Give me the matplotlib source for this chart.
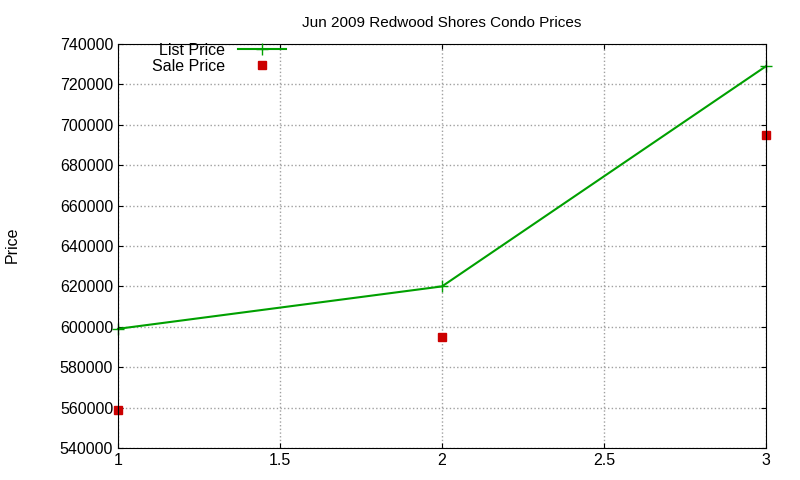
import matplotlib
matplotlib.use("Agg")
import matplotlib.pyplot as plt

x = [1, 2, 3]
list_price = [599000, 620000, 729000]
sale_price = [559000, 595000, 695000]
yticks = list(range(540000, 740001, 20000))
xticks = [1, 1.5, 2, 2.5, 3]

plt.rcParams['font.family'] = ['Liberation Sans', 'DejaVu Sans']
fig = plt.figure(figsize=(8, 4.8), dpi=100)
ax = fig.add_axes([118/800, 1-448/480, (766-118)/800, (448-44)/480])
ax.plot(x, list_price, color='#00a000', marker='+', markersize=8, lw=1.5, label='List Price', clip_on=False)
ax.plot(x, sale_price, color='#cc0000', marker='s', markersize=6, ls='none', label='Sale Price', clip_on=False)
ax.set_xlim(1, 3)
ax.set_ylim(540000, 740000)
ax.set_xticks(xticks)
ax.set_xticklabels(['1', '1.5', '2', '2.5', '3'])
ax.set_yticks(yticks)
ax.set_yticklabels([str(v) for v in yticks])
ax.tick_params(labelsize=11.5, direction='in', top=True, right=True)
ax.grid(True, color='#a0a0a0', ls=':', lw=1)
for s in ax.spines.values():
    s.set_color('black')
ax.set_title('Jun 2009 Redwood Shores Condo Prices', fontsize=11, pad=12)
fig.text(12/800, 1-245/480, 'Price', rotation=90, va='center', ha='center', fontsize=11.5)
leg = ax.legend(loc='upper left', bbox_to_anchor=(0.035, 1.03), frameon=False, fontsize=11.5,
                markerfirst=False, handlelength=3.0, borderaxespad=0.3, labelspacing=0.05)
for t in leg.get_texts():
    t.set_ha('right')
fig.savefig('out.png', dpi=100)
